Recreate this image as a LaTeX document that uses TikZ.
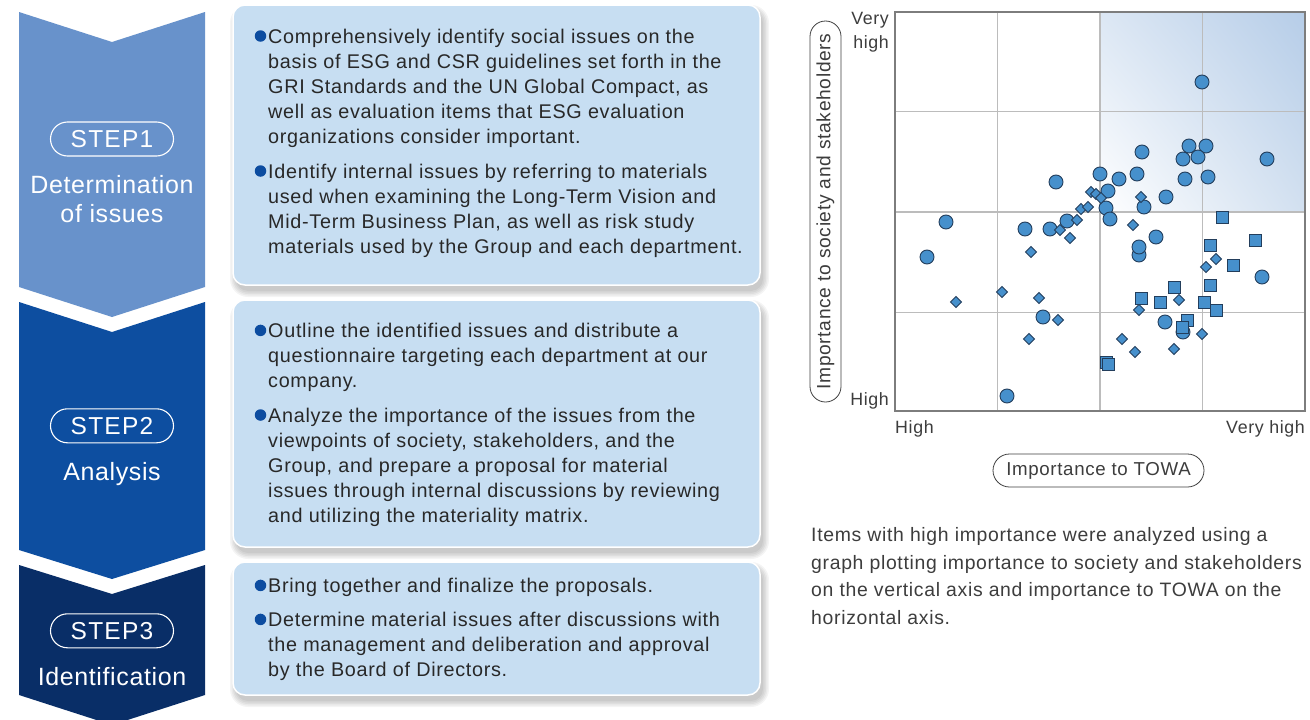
\documentclass[tikz,border=0pt]{standalone}
\usepackage{fontspec}
\usetikzlibrary{shadings}
\setmainfont{Liberation Sans}[LetterSpace=3.5]
\newfontfamily\stepfont{Liberation Sans}[LetterSpace=5.0]
\newfontfamily\namefont{Liberation Sans}[LetterSpace=2.5]
\definecolor{stepA}{RGB}{104,146,203}
\definecolor{stepB}{RGB}{13,78,160}
\definecolor{stepC}{RGB}{9,46,103}
\definecolor{boxfill}{RGB}{199,222,242}
\definecolor{bulblue}{RGB}{12,76,160}
\definecolor{mkfill}{RGB}{70,144,204}
\definecolor{mkline}{RGB}{35,62,92}
\definecolor{gridc}{RGB}{188,188,188}
\definecolor{framec}{RGB}{125,125,125}
\definecolor{txt}{RGB}{40,40,40}
\definecolor{gUL}{RGB}{220,231,244}
\definecolor{gUR}{RGB}{182,205,232}
\definecolor{gLR}{RGB}{210,224,240}
\newcommand\bodysize{\fontsize{19.8}{25}\selectfont}
\newcommand\bline[3]{\node[bodytxt] (#1) at (268,#2) {#3};}
\newcommand\bdot[2]{\node[bullet] (#1) at (260.5,#2-7.3) {};}
\newcommand\shbox[5]{%
  \foreach \e in {0,1.5,3,4.5,6}{%
    \fill[black,opacity=0.045,rounded corners=12+\e] (#1+3-\e,#2+6-\e) rectangle (#3+3+\e,#4+6+\e);
  }
  \draw[boxst] (#1,#2) rectangle (#3,#4);
  \coordinate (#5) at (#1,#2);
}
\begin{document}
\begin{tikzpicture}[x=1pt,y=-1pt,
  bodytxt/.style={anchor=base west,inner sep=0,font=\bodysize,text=txt},
  bullet/.style={circle,fill=bulblue,minimum size=11.5pt,inner sep=0},
  boxst/.style={fill=boxfill,draw=white,line width=1.5pt,rounded corners=12pt},
  steppill/.style={draw=white,line width=1.1pt,rounded corners=17pt,minimum width=123pt,minimum height=34pt,inner sep=0,text=white,font=\stepfont\fontsize{24.5}{24.5}\selectfont},
  stepname/.style={anchor=base,inner sep=0,text=white,font=\namefont\fontsize{25}{25}\selectfont},
  mk/.style={fill=mkfill,draw=mkline,line width=0.9pt},
  gridl/.style={draw=gridc,line width=1.2pt},
  axlab/.style={inner sep=0,font=\fontsize{17.8}{22}\selectfont,text=txt!90},
  axpill/.style={draw=black!75,line width=0.8pt,inner sep=0,text=txt!90},
  paratxt/.style={anchor=base west,inner sep=0,font=\fontsize{19.4}{27}\selectfont,text=txt!90}
]
\useasboundingbox (0,0) rectangle (1310,720);
\fill[white] (0,0) rectangle (1310,720);

% step chevrons
\fill[stepA] (19,12) -- (112,42) -- (205,12) -- (205,287) -- (112,317) -- (19,287) -- cycle;
\fill[stepB] (19,302) -- (112,332) -- (205,302) -- (205,550) -- (112,579) -- (19,550) -- cycle;
\fill[stepC] (19,565) -- (112,594) -- (205,565) -- (205,695) -- (112,725) -- (19,695) -- cycle;

\node[steppill] (s1) at (112,139) {STEP1};
\node[stepname] (n1a) at (112,193) {Determination};
\node[stepname] (n1b) at (112,222) {of issues};
\node[steppill] (s2) at (112,425.8) {STEP2};
\node[stepname] (n2a) at (112,480) {Analysis};
\node[steppill] (s3) at (112,630.8) {STEP3};
\node[stepname] (n3a) at (112,685) {Identification};

% boxes
\shbox{233}{5}{760}{285}{box1}
\shbox{233}{300}{760}{547}{box2}
\shbox{233}{562}{760}{695}{box3}

% box 1 text
\bdot{d11}{43.3}
\bline{t11}{43.3}{Comprehensively identify social issues on the}
\bline{t12}{68.3}{basis of ESG and CSR guidelines set forth in the}
\bline{t13}{93.3}{GRI Standards and the UN Global Compact, as}
\bline{t14}{118.3}{well as evaluation items that ESG evaluation}
\bline{t15}{143.3}{organizations consider important.}
\bdot{d12}{178.3}
\bline{t16}{178.3}{Identify internal issues by referring to materials}
\bline{t17}{203.3}{used when examining the Long-Term Vision and}
\bline{t18}{228.3}{Mid-Term Business Plan, as well as risk study}
\bline{t19}{253.3}{materials used by the Group and each department.}

% box 2 text
\bdot{d21}{337.7}
\bline{t21}{337.7}{Outline the identified issues and distribute a}
\bline{t22}{362.7}{questionnaire targeting each department at our}
\bline{t23}{387.7}{company.}
\bdot{d22}{422.3}
\bline{t24}{422.3}{Analyze the importance of the issues from the}
\bline{t25}{447.3}{viewpoints of society, stakeholders, and the}
\bline{t26}{472.3}{Group, and prepare a proposal for material}
\bline{t27}{497.3}{issues through internal discussions by reviewing}
\bline{t28}{522.3}{and utilizing the materiality matrix.}

% box 3 text
\bdot{d31}{592.7}
\bline{t31}{592.7}{Bring together and finalize the proposals.}
\bdot{d32}{626.7}
\bline{t32}{626.7}{Determine material issues after discussions with}
\bline{t33}{651.7}{the management and deliberation and approval}
\bline{t34}{676.7}{by the Board of Directors.}

% chart
\shade[upper left=gUL,upper right=gUR,lower left=white,lower right=gLR] (1100,12) rectangle (1305,212);
\foreach \gx in {997.5,1100,1202.5} \draw[gridl] (\gx,12) -- (\gx,411);
\foreach \gy in {111.5,212,312.5} \draw[gridl] (895,\gy) -- (1305,\gy);
\draw[draw=framec,line width=1.3pt] (895,12) rectangle (1305,411);

% circles
\foreach \x/\y in {1202/82,1189/146,1206/146,1142/152,1183/159,1198/157,1267/159,1056/182,1100/174,1119/179,1137/174,1185/179,1208/177,1108/191,1166/197,1106/208,1144/207,1110/219,946/222,1067/221,1025/229,1050/229,927/257,1156/237,1139/255,1139/247,1262/277,1043/317,1183/332,1165/322,1007/396}
  \draw[mk] (\x,\y) circle[radius=7pt];
% diamonds
\foreach \x/\y in {1091/192,1096/194,1101/198,1081/209,1088/207,1077/220,1060/230,1070/238,1031/252,1141/197,1133/225,1216/259,1206/267,1002/292,956/302,1039/298,1058/320,1029/339,1179/300,1139/310,1202/334,1122/339,1135/352,1174/349}
  \draw[mk] (\x,\y-5.5) -- (\x+5.5,\y) -- (\x,\y+5.5) -- (\x-5.5,\y) -- cycle;
% squares
\foreach \x/\y in {1222/217,1255/240,1210/245,1233/265,1210/285,1174/287,1141/298,1160/302,1204/302,1216/310,1187/320,1182/327,1106/362,1108/364}
  \draw[mk] (\x-6,\y-6) rectangle (\x+6,\y+6);

% axis labels
\node[axlab,anchor=base east] (vh1) at (889,24.5) {Very};
\node[axlab,anchor=base east] (vh2) at (889,48.5) {high};
\node[axlab,anchor=base east] (hl) at (889,405.5) {High};
\node[axlab,anchor=base west] (hb) at (895,433.3) {High};
\node[axlab,anchor=base east] (vhb) at (1305,433.3) {Very high};
\node[axpill,rotate=90,minimum width=381pt,minimum height=31pt,rounded corners=15.5pt,font=\fontsize{19.2}{22}\selectfont] (vpill) at (825.5,211.5) {Importance to society and stakeholders};
\node[axpill,minimum width=211pt,minimum height=33pt,rounded corners=16.5pt,font=\fontsize{18.7}{22}\selectfont] (hpill) at (1098.5,470.5) {Importance to TOWA};

% paragraph
\node[paratxt] (p1) at (811,541.7) {Items with high importance were analyzed using a};
\node[paratxt] (p2) at (811,569.2) {graph plotting importance to society and stakeholders};
\node[paratxt] (p3) at (811,596.6) {on the vertical axis and importance to TOWA on the};
\node[paratxt] (p4) at (811,624) {horizontal axis.};
\end{tikzpicture}
\end{document}
